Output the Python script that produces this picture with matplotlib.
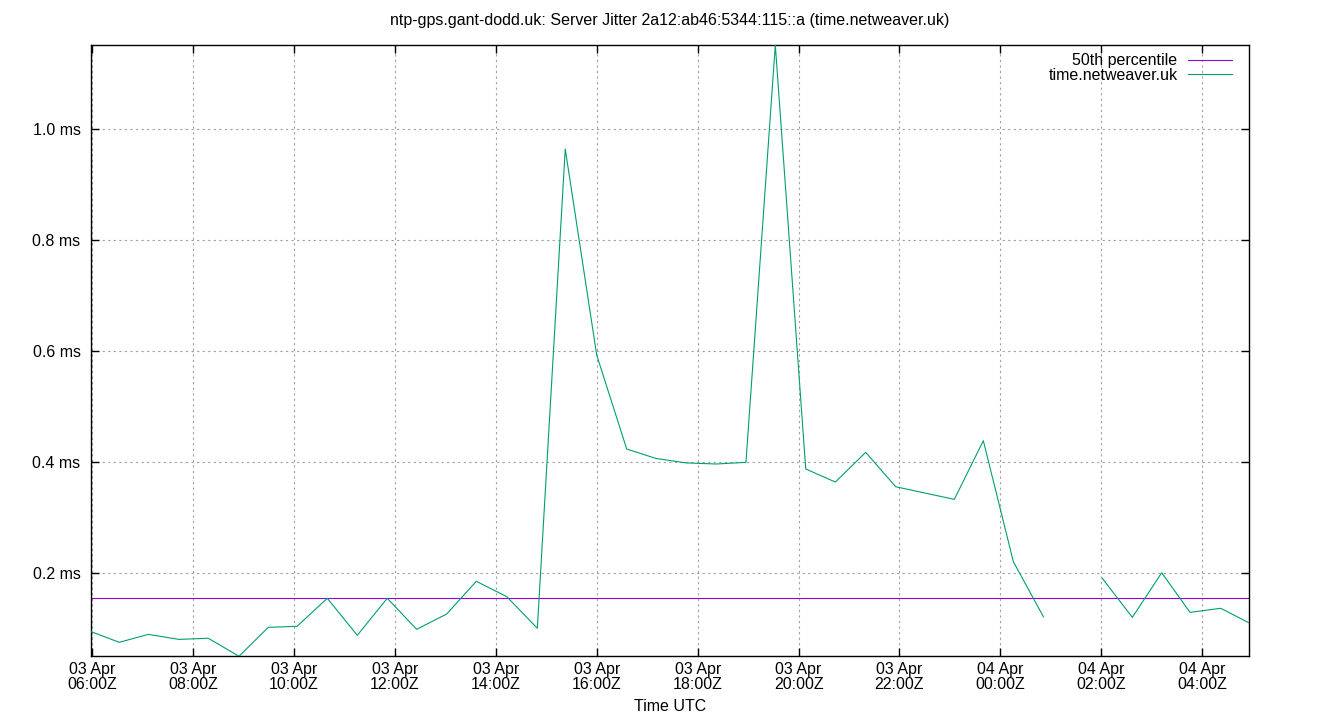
import matplotlib
matplotlib.use("Agg")
import matplotlib.pyplot as plt
import matplotlib.dates as mdates
import numpy as np
import pandas as pd

# ---- data ----
title = "ntp-gps.gant-dodd.uk: Server Jitter 2a12:ab46:5344:115::a (time.netweaver.uk)"
series_name = "time.netweaver.uk"
median_name = "50th percentile"
start_time = "2025-04-03 06:00"
# minutes after start_time
minutes = [-1.5, 32.1, 66.6, 103.1, 138.0, 174.5, 209.3, 243.5, 279.5, 315.2,
           350.8, 385.8, 421.5, 456.7, 492.9, 529.3, 562.5, 599.9, 635.6, 670.4,
           706.1, 741.8, 777.4, 812.3, 848.5, 883.7, 919.8, 955.5, 1025.2, 1059.7,
           1095.4, 1131.1, 1166.4, 1201.2, 1236.9, 1271.8, 1305.5, 1342.0, 1376.0]
jitter_ms = [0.095, 0.0757, 0.090, 0.081, 0.083, 0.0505, 0.1027, 0.1045, 0.155, 0.0883,
             0.155, 0.0991, 0.1267, 0.1856, 0.158, 0.101, 0.9645, 0.5933, 0.424, 0.407,
             0.399, 0.397, 0.400, 1.152, 0.388, 0.3645, 0.418, 0.356, 0.3333, 0.439,
             0.221, 0.1218, np.nan, 0.191, 0.1207, 0.201, 0.1297, 0.137, 0.1105]
median_ms = 0.155
y_ticks = [0.2, 0.4, 0.6, 0.8, 1.0]

times = pd.Timestamp(start_time) + pd.to_timedelta(minutes, unit="m")
vals = np.array(jitter_ms, dtype=float)

FS = 11.5
plt.rcParams['font.family'] = ['Liberation Sans', 'DejaVu Sans']
fig = plt.figure(figsize=(13.4, 7.2), dpi=100)
ax = fig.add_axes([91/1340, 1-656.3/720, (1249.3-91)/1340, (656.3-45)/720])

ax.plot(times, vals, color="#009E73", lw=0.8, label=series_name, zorder=3)
ax.axhline(median_ms, color="#9400D3", lw=0.8, label=median_name, zorder=2)

ax.set_xlim(times.min(), times.max())
ax.set_ylim(np.nanmin(vals), np.nanmax(vals))

ax.xaxis.set_major_locator(mdates.HourLocator(byhour=range(0, 24, 2)))
ax.xaxis.set_major_formatter(mdates.DateFormatter("%d %b\n%H:%MZ"))
ax.set_yticks(y_ticks)
ax.set_yticklabels([f"{v:.1f} ms" for v in y_ticks])

ax.tick_params(direction="in", length=6, width=1, top=True, right=True,
               labelsize=FS, colors="black")
ax.tick_params(axis="y", pad=7.5)
ax.tick_params(axis="x", pad=4)
for lab in ax.get_xticklabels():
    lab.set_linespacing(1.0)
ax.grid(True, color="#a0a0a0", linestyle=(0, (2, 3)), lw=0.8)
for s in ax.spines.values():
    s.set_linewidth(1)

ax.set_xlabel("Time UTC", fontsize=FS, labelpad=5.5)
fig.text(0.5, 1-20/720, title, fontsize=FS, ha="center", va="center")

h, l = ax.get_legend_handles_labels()
order = [1, 0]
leg = ax.legend([h[i] for i in order], [l[i] for i in order], loc="upper right",
                bbox_to_anchor=(1 - 11/1158, 1 - 2/611),
                frameon=False, markerfirst=False, fontsize=FS, handlelength=2.75,
                handletextpad=0.65, labelspacing=-0.05, borderaxespad=0.0)

fig.savefig("out.png", dpi=100)
